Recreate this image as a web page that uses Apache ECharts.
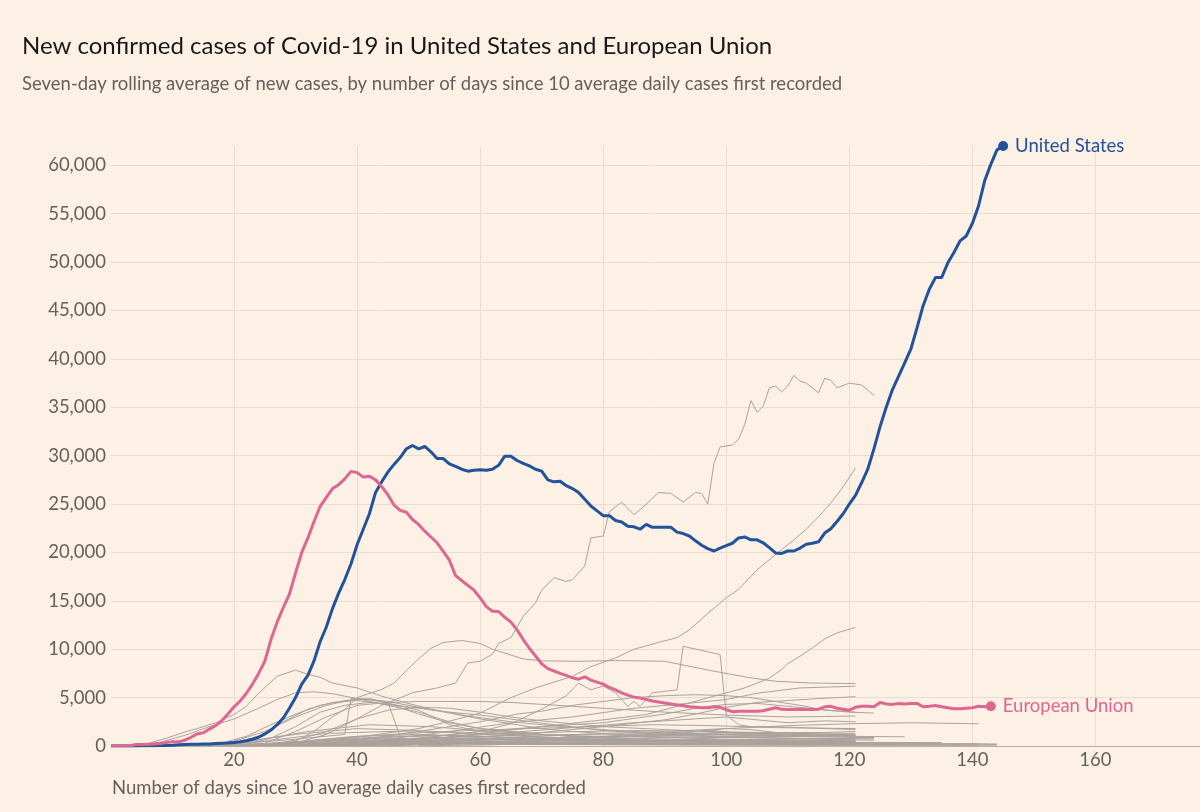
<!DOCTYPE html>
<html>
<head>
<meta charset="utf-8">
<title>Covid-19 US vs EU</title>
<script src="https://cdn.jsdelivr.net/npm/echarts@6/dist/echarts.min.js"></script>
<style>
  html, body { margin: 0; padding: 0; background: #fdf1e6; }
  #main { width: 1200px; height: 812px; }
</style>
</head>
<body>
<div id="main"></div>
<script>
// seven-day average of new cases, one value per day (index = day)
var usCases = [0,0,0,5,10,15,20,30,40,60,90,130,160,180,190,200,210,250,280,300,
  350,430,550,700,900,1250,1650,2200,2900,3900,5000,6400,7300,8800,10800,12300,14200,15800,17200,18800,
  20800,22400,24000,26200,27300,28300,29100,29800,30700,31050,30700,30950,30400,29700,29700,29150,28900,28600,28400,28500,
  28550,28500,28600,29000,29950,29950,29500,29200,28950,28600,28400,27500,27300,27350,26900,26600,26200,25500,24800,24300,
  23800,23800,23300,23150,22700,22650,22400,22900,22600,22600,22600,22600,22100,21950,21700,21200,20750,20400,20150,20450,
  20700,20950,21500,21600,21300,21300,21000,20500,19950,19900,20150,20150,20450,20850,20950,21100,22000,22450,23200,24000,
  25000,25900,27200,28600,30700,33000,35000,36800,38200,39600,41000,43200,45500,47200,48400,48400,49900,51000,52200,52700,
  54000,55800,58400,60100,61600,62000];

var euCases = [0,0,0,0,150,150,150,200,250,350,430,430,600,900,1250,1360,1750,2100,2600,3300,
  4050,4650,5450,6400,7500,8760,11000,12800,14300,15700,17900,20000,21500,23200,24770,25700,26600,27000,27600,28380,
  28250,27800,27870,27500,26800,25970,24900,24350,24150,23400,22900,22200,21600,21000,20100,19200,17600,17100,16600,16100,
  15300,14400,13920,13900,13300,12800,12000,11000,10100,9300,8500,8000,7750,7500,7300,7050,6900,7150,6800,6600,
  6400,6050,5800,5500,5250,5050,4950,4800,4650,4550,4450,4350,4250,4150,4050,4000,3950,3950,4050,4000,
  3750,3550,3600,3600,3600,3580,3650,3800,3950,3800,3780,3780,3780,3780,3780,3800,4050,4100,3900,3800,
  3700,4000,4100,4100,4050,4500,4350,4300,4400,4350,4380,4400,4050,4100,4180,4050,3950,3850,3850,3900,
  3950,4100,4050,4110];

// other countries, as [day, cases] pairs
var otherCountries = [
  [[30,300],[35,1200],[40,2800],[44,4200],[49,5500],[53,6000],[56,6500],[58,8580],[60,8760],[62,9500],[63,10600],[65,11200],[67,13400],[69,14800],[70,16100],[72,17400],[74,17000],[75,17200],[77,18600],[78,21500],[80,21700],[81,24200],[83,25200],[85,23900],[86,24400],[89,26200],[91,26100],[93,25200],[95,26200],[96,26100],[97,25000],[98,29200],[99,30900],[101,31100],[102,31700],[103,33200],[104,35700],[105,34500],[106,35100],[107,37000],[108,37200],[109,36600],[110,37200],[111,38300],[112,37700],[113,37500],[114,37000],[115,36500],[116,38000],[117,37800],[118,37000],[120,37500],[122,37300],[123,36800],[124,36200]],
  [[20,100],[30,300],[40,900],[50,1800],[54,2400],[60,3400],[65,5000],[69,6000],[72,6600],[75,7200],[78,8200],[82,9100],[85,10000],[89,10700],[92,11200],[94,12000],[97,13700],[100,15300],[102,16200],[105,18200],[109,20300],[111,21300],[113,22400],[115,23700],[117,25100],[119,26800],[121,28700]],
  [[25,100],[30,500],[33,1500],[36,3000],[38,3800],[40,5000],[44,5850],[46,6500],[48,7800],[50,9000],[52,10100],[54,10700],[57,10900],[60,10600],[62,10000],[65,9400],[67,9000],[70,8800],[76,8750],[82,8830],[90,8760],[94,8240],[98,7730],[104,7040],[108,6690],[114,6500],[121,6450]],
  [[35,200],[45,700],[55,1500],[65,2400],[75,3000],[85,3900],[92,4300],[100,4800],[105,5450],[112,6000],[121,6180]],
  [[40,300],[50,800],[60,1500],[70,2000],[80,2700],[87,3250],[92,4100],[98,5150],[103,6000],[107,7000],[109,7900],[110,8500],[112,9280],[114,10140],[116,11070],[118,11690],[121,12250]],
  [[5,100],[7,450],[9,800],[12,1450],[14,1800],[17,2400],[20,3250],[22,4100],[24,5450],[27,7200],[30,7850],[32,7400],[34,7100],[36,6500],[40,6000],[44,5150],[48,4450],[52,3800],[58,3100],[65,2500],[75,1900],[85,1500],[95,1200],[110,1000],[124,900]],
  [[5,100],[8,400],[12,1100],[16,2000],[20,2800],[24,3900],[27,4800],[30,5500],[33,5600],[36,5400],[40,4900],[45,4200],[50,3500],[55,2500],[60,1800],[70,1200],[80,800],[90,500],[100,350],[110,300],[120,250],[130,250],[140,250],[144,200]],
  [[15,100],[20,500],[25,1500],[30,3000],[35,4200],[40,4900],[45,4600],[50,4000],[55,3400],[60,2800],[65,2300],[70,1800],[75,1500],[80,1300],[90,900],[100,700],[110,600],[121,550]],
  [[18,300],[22,1000],[26,2200],[30,3300],[34,4200],[38,4700],[42,4900],[45,4500],[47,1000],[52,900],[60,700],[70,600],[80,500],[90,450],[100,400],[121,350]],
  [[20,200],[30,700],[38,1200],[39,4900],[42,4800],[46,4300],[50,3700],[55,2200],[60,1500],[70,900],[80,700],[90,600],[100,550],[110,500],[121,500]],
  [[20,300],[25,1200],[28,2500],[32,3800],[36,4500],[40,4700],[45,4300],[50,3900],[55,3500],[60,3200],[66,2700],[72,2200],[80,1600],[90,1200],[100,900],[110,800],[121,700]],
  [[22,200],[26,800],[30,2000],[34,3500],[38,4200],[42,4500],[46,4200],[50,3300],[55,2400],[60,1800],[65,1500],[70,1200],[75,1000],[80,900],[85,1000],[90,1100],[95,1300],[100,1400],[106,1350],[112,1200],[118,1100],[121,1050]],
  [[25,100],[30,600],[35,1500],[40,2800],[45,3700],[50,4000],[55,3900],[60,3500],[65,3000],[70,2600],[75,2300],[80,2000],[90,1700],[100,1400],[110,1200],[121,1100]],
  [[25,300],[30,1500],[35,3000],[40,4200],[45,4500],[50,4600],[55,4600],[60,4600],[65,4500],[70,4300],[75,4100],[80,3900],[90,3500],[100,3200],[110,3000],[116,3050],[121,3100]],
  [[30,100],[40,600],[50,1500],[60,2500],[66,3300],[70,3600],[75,4200],[80,4600],[85,5000],[90,5200],[95,5300],[100,5200],[104,5000],[108,4600],[112,4200],[116,3700],[121,3500]],
  [[30,100],[40,400],[50,800],[60,1500],[65,2300],[70,3800],[74,5200],[76,6500],[78,5800],[80,6200],[82,5500],[84,4100],[85,4600],[86,4100],[88,5500],[92,5800],[93,10300],[99,9450],[100,3200],[102,2200],[104,2000],[108,2000],[112,1900],[116,1800],[121,1700]],
  [[40,100],[50,600],[60,1300],[70,2000],[80,2400],[90,3300],[95,3900],[100,4300],[105,4400],[110,4100],[115,3800],[120,3500],[124,3400]],
  [[50,500],[60,900],[70,1400],[80,2000],[90,2700],[95,3300],[100,4000],[105,4500],[110,4700],[115,4900],[121,5100]],
  [[10,50],[20,300],[30,1200],[40,1800],[50,1600],[60,1200],[70,900],[80,700],[100,500],[121,400]],
  [[12,50],[22,400],[32,1500],[42,2200],[52,2000],[62,1500],[72,1100],[85,800],[100,600],[121,500]],
  [[15,50],[25,500],[35,1300],[45,1500],[55,1400],[65,1200],[80,1000],[95,900],[110,800],[124,750]],
  [[18,50],[28,300],[38,900],[48,1300],[58,1600],[68,1800],[78,2000],[88,2200],[98,2100],[108,1900],[121,1800]],
  [[20,50],[30,400],[40,1000],[50,1200],[60,1000],[70,800],[80,600],[95,500],[110,450],[121,400]],
  [[14,30],[24,200],[34,600],[44,800],[54,700],[64,600],[74,500],[90,400],[110,350],[128,300]],
  [[16,40],[26,250],[36,700],[46,1000],[56,1100],[66,1300],[76,1500],[86,1600],[96,1500],[106,1400],[121,1300]],
  [[25,50],[35,200],[45,500],[55,900],[65,1400],[75,1900],[85,2400],[95,2800],[100,3000],[105,2700],[110,2400],[116,2600],[121,2500]],
  [[30,50],[40,200],[50,400],[60,700],[70,1000],[80,1300],[90,1500],[100,1800],[110,2100],[120,2300],[130,2400],[141,2300]],
  [[20,30],[30,150],[40,400],[50,600],[60,500],[70,400],[80,350],[95,300],[110,250],[135,200]],
  [[10,20],[20,100],[30,350],[40,500],[50,450],[60,350],[75,250],[90,200],[110,150],[144,120]],
  [[22,30],[32,300],[42,800],[52,1100],[62,900],[72,700],[82,550],[95,450],[110,400],[121,350]],
  [[28,30],[38,150],[48,350],[58,600],[68,800],[78,950],[88,1100],[98,1200],[108,1150],[121,1100]],
  [[35,50],[45,250],[55,500],[65,700],[75,900],[85,1000],[95,1100],[105,900],[115,700],[124,600]],
  [[18,30],[28,200],[38,500],[48,700],[58,800],[68,700],[78,600],[90,500],[105,400],[121,350]],
  [[12,20],[22,150],[32,500],[42,700],[52,600],[62,450],[72,350],[85,300],[100,250],[121,200]],
  [[26,30],[36,250],[46,600],[56,900],[66,1100],[76,1200],[86,1250],[96,1300],[106,1350],[116,1400],[121,1500]],
  [[40,30],[50,150],[60,300],[70,500],[80,700],[90,900],[100,1000],[110,1100],[120,1000],[129,950]],
  [[8,20],[18,80],[28,250],[38,400],[48,350],[58,250],[70,200],[90,150],[110,120],[144,100]],
  [[20,20],[30,100],[40,250],[50,350],[60,300],[70,250],[80,200],[100,180],[121,150]],
  [[30,20],[40,100],[50,250],[60,400],[70,500],[80,550],[90,600],[100,650],[110,700],[121,750]],
  [[24,20],[34,150],[44,350],[54,450],[64,400],[74,350],[84,300],[100,250],[121,200]],
  [[15,10],[25,60],[35,200],[45,300],[55,250],[65,200],[80,150],[100,120],[121,100]],
  [[45,30],[55,200],[65,500],[75,800],[85,1200],[95,1500],[100,1800],[104,1700],[108,1400],[112,1300],[118,1200],[121,1150]],
  [[22,20],[32,100],[42,300],[52,500],[62,650],[72,600],[82,500],[95,450],[110,400],[135,350]],
  [[32,20],[42,80],[52,200],[62,300],[72,350],[82,400],[92,450],[102,500],[112,480],[121,450]],
  [[20,10],[30,60],[40,150],[50,200],[60,180],[70,150],[90,120],[110,100],[141,80]],
  [[25,10],[35,80],[45,180],[55,250],[65,230],[75,200],[90,180],[110,150],[128,130]],
  [[38,20],[48,120],[58,300],[68,600],[78,900],[88,1200],[94,1400],[98,1600],[102,1300],[106,1200],[112,1250],[118,1150],[121,1100]],
  [[50,30],[60,100],[70,250],[80,400],[90,600],[100,900],[110,1000],[120,900],[124,850]]
];

var usName = 'United States';
var euName = 'European Union';
var usColor = '#22529a';
var euColor = '#de6690';
var fontName = 'Lato';

var myChart = echarts.init(document.getElementById('main'));

function toPairs(arr) {
    return arr.map(function (v, i) { return [i, v]; });
}

var series = [];
otherCountries.forEach(function (line) {
    series.push({
        type: 'line',
        data: line,
        showSymbol: false,
        silent: true,
        lineStyle: { color: '#aaa29c', width: 1 },
        z: 1
    });
});

// main lines with a name at the end
[[usName, usCases, usColor], [euName, euCases, euColor]].forEach(function (s) {
    series.push({
        name: s[0],
        type: 'line',
        data: toPairs(s[1]),
        showSymbol: false,
        lineStyle: { color: s[2], width: 3 },
        endLabel: {
            show: true,
            formatter: s[0],
            color: s[2],
            fontFamily: fontName,
            fontSize: 18.5,
            distance: 12
        },
        z: 3
    });
    // dot on the last value
    series.push({
        type: 'scatter',
        data: [[s[1].length - 1, s[1][s[1].length - 1]]],
        symbolSize: 10,
        itemStyle: { color: s[2], opacity: 1 },
        z: 4
    });
});

var option = {
    backgroundColor: '#fdf1e6',
    animation: false,
    title: [
        {
            text: 'New confirmed cases of Covid-19 in United States and European Union',
            left: 22, top: 34, padding: 0,
            textStyle: { fontFamily: fontName, fontSize: 24, fontWeight: 'normal', color: '#1a1817' }
        },
        {
            text: 'Seven-day rolling average of new cases, by number of days since 10 average daily cases first recorded',
            left: 22, top: 75, padding: 0,
            textStyle: { fontFamily: fontName, fontSize: 18.5, fontWeight: 'normal', color: '#66605c' }
        },
        {
            text: 'Number of days since 10 average daily cases first recorded',
            left: 112, top: 779, padding: 0,
            textStyle: { fontFamily: fontName, fontSize: 18.5, fontWeight: 'normal', color: '#66605c' }
        }
    ],
    grid: { left: 111, right: 0, top: 146, bottom: 66 },
    xAxis: {
        type: 'value',
        min: 0, max: 177, interval: 20,
        axisLine: { show: true, onZero: true, lineStyle: { color: '#b9b0a9', width: 1 } },
        axisTick: { show: false },
        axisLabel: {
            showMaxLabel: false,
            margin: 5,
            color: '#66605c', fontFamily: fontName, fontSize: 18.5,
            formatter: function (v) { return v === 0 ? '' : v; }
        },
        splitLine: { show: true, showMinLine: false, showMaxLine: false, lineStyle: { color: '#e8ddd2', width: 1 } }
    },
    yAxis: {
        type: 'value',
        min: 0, max: 62000, interval: 5000,
        axisLine: { show: false },
        axisTick: { show: false },
        axisLabel: {
            showMaxLabel: false,
            margin: 5,
            color: '#66605c', fontFamily: fontName, fontSize: 18.5,
            formatter: function (v) { return v.toLocaleString('en-US'); }
        },
        splitLine: { show: true, showMaxLine: false, lineStyle: { color: '#e8ddd2', width: 1 } }
    },
    series: series
};

myChart.setOption(option);
</script>
</body>
</html>
